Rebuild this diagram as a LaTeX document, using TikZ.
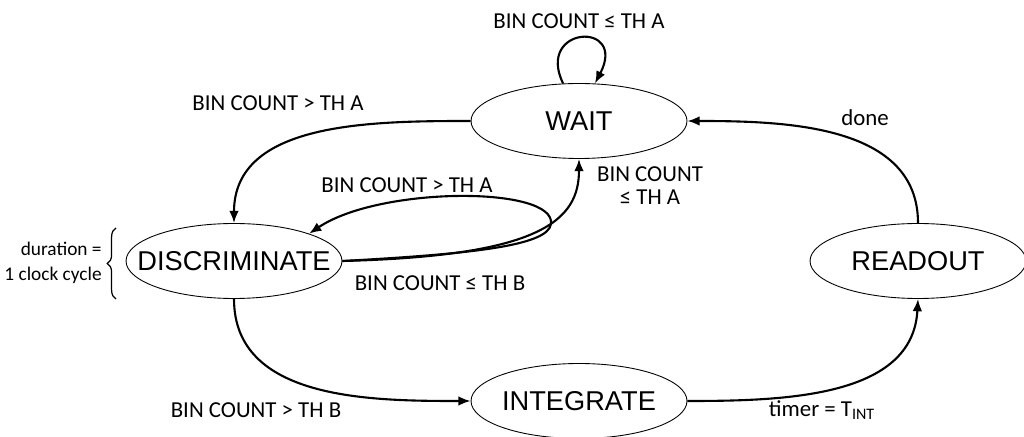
\documentclass[tikz,border=0pt]{standalone}
\usepackage{fontspec}
\setmainfont{Carlito}
\newfontfamily\statefont{Liberation Sans}
\usetikzlibrary{arrows.meta,shapes.geometric,decorations.pathreplacing}

\begin{document}
\begin{tikzpicture}[x=0.02cm,y=0.02cm,>={Latex[length=7pt,width=5.5pt]},
    state/.style={draw,ellipse,line width=0.5pt,minimum width=4.32cm,minimum height=1.5cm,inner xsep=-16pt,font=\statefont\fontsize{15.5}{17}\selectfont},
    trans/.style={->,line width=1.2pt},
    lbl/.style={font=\fontsize{13}{13}\selectfont,align=center,inner sep=0pt}]
  \useasboundingbox (0,0) rectangle (1024,436);
  \node[state] (wait) at (579,315) {WAIT};
  \node[state] (disc) at (234,175) {DISCRIMINATE};
  \node[state] (integ) at (579,35) {INTEGRATE};
  \node[state] (readout) at (918,175) {READOUT};
  \coordinate (turn) at (551,212);
  \draw[trans] (wait.113) .. controls +(-28,58) and +(33,63) .. (wait.67);
  \draw[trans] (wait.west) to[out=180,in=90] (disc.north);
  \draw[trans] (disc.east) .. controls (470,182) and (548,190) .. (turn)
    .. controls (556,250) and (380,250) .. (disc.20);
  \draw[trans] (disc.east) .. controls (540,180) and (579,215) .. (wait.south);
  \draw[trans] (disc.south) to[out=-90,in=180] (integ.west);
  \draw[trans] (integ.east) to[out=0,in=-93] (readout.south);
  \draw[trans] (readout.north) to[out=90,in=0] (wait.east);
  % labels
  \node[lbl] (l1) at (579,415) {BIN COUNT ≤ TH A};
  \node[lbl] (l2) at (278,333) {BIN COUNT > TH A};
  \node[lbl] (l3) at (407,251) {BIN COUNT > TH A};
  \node[lbl] (l4) at (650,250) {BIN COUNT\\≤ TH A};
  \node[lbl] (l5) at (440,153) {BIN COUNT ≤ TH B};
  \node[lbl] (l6) at (256,26) {BIN COUNT > TH B};
  \node[lbl] (l7) at (822,26) {timer = T\textsubscript{INT}};
  \node[lbl] (l8) at (865,318) {done};
  \node[font=\fontsize{11}{14.5}\selectfont,align=right,anchor=east,inner sep=0pt] (dur) at (102,173) {duration =\\1 clock cycle};
  \draw[line width=0.7pt,decorate,decoration={brace,amplitude=5pt}] (116,137) -- (116,208);
\end{tikzpicture}
\end{document}
